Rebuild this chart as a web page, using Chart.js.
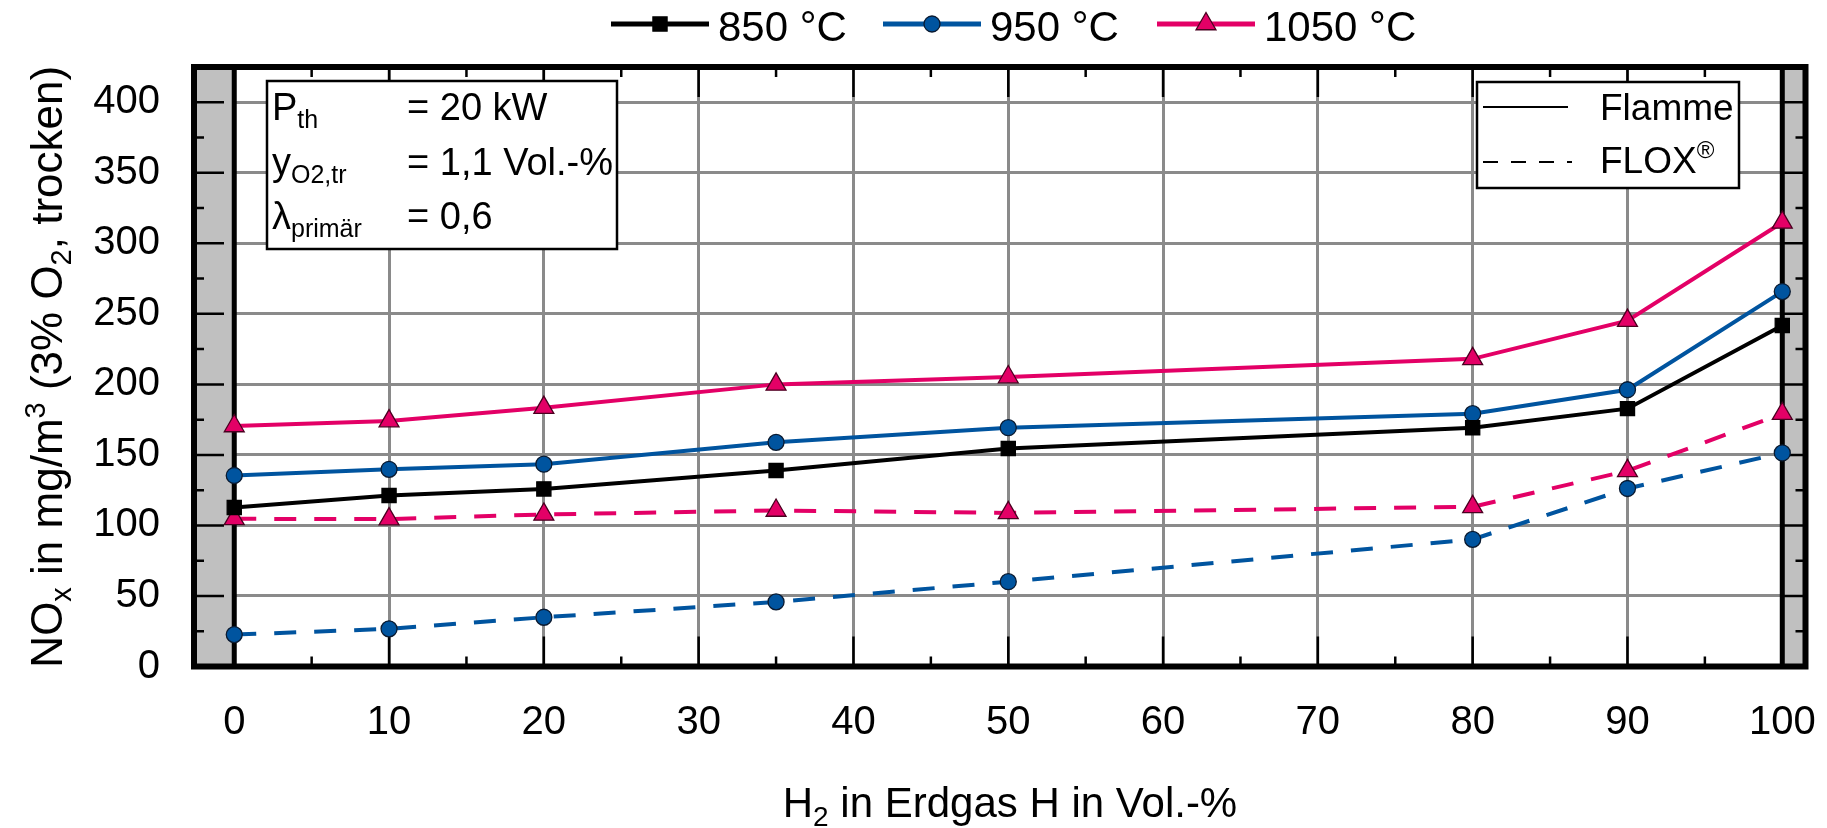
<!DOCTYPE html>
<html><head><meta charset="utf-8">
<script src="https://cdn.jsdelivr.net/npm/chart.js@4.4.0/dist/chart.umd.min.js"></script>
<style>html,body{margin:0;padding:0;background:#fff;}canvas{display:block;}</style>
</head><body>
<canvas id="c" width="1827" height="828"></canvas>
<script>
// ---------- data ----------
const h2Values   = [0, 10, 20, 35, 50, 80, 90, 100];
const flamme850  = [112.7, 121.2, 125.9, 138.9, 154.5, 169.3, 182.8, 241.7];
const flamme950  = [135.4, 139.8, 143.4, 158.9, 169.3, 179.2, 196.2, 265.8];
const flamme1050 = [170.5, 174.0, 183.5, 200.0, 205.2, 218.1, 245.2, 314.8];
const flox950    = [22.6, 26.7, 34.9, 45.8, 60.1, 90.1, 126.2, 151.4];
const flox1050   = [104.7, 104.5, 107.8, 110.6, 108.9, 113.2, 138.7, 179.2];
const xTickValues = [0, 10, 20, 30, 40, 50, 60, 70, 80, 90, 100];
const yTickValues = [0, 50, 100, 150, 200, 250, 300, 350, 400];
const seriesLabels = ['850 °C', '950 °C', '1050 °C'];
const modeLabels = ['Flamme', 'FLOX'];

// ---------- style ----------
const FONT = "'Liberation Sans', Arial, Helvetica, sans-serif";
const C_BLACK = '#000000', C_BLUE = '#00549f', C_PINK = '#e30066';
const seriesStyle = [
  {color: C_BLACK, shape: 'rect', r: 10, border: C_BLACK},
  {color: C_BLUE, shape: 'circle', r: 8, border: '#0a1a30'},
  {color: C_PINK, shape: 'triangle', r: 11.5, border: '#4a0020'}
];
const DASH = [22, 18];

function pts(arr) { return h2Values.map((x, i) => ({x: x, y: arr[i]})); }
function ds(label, arr, si, dashed) {
  const s = seriesStyle[si];
  return {
    label: label, data: pts(arr), showLine: true, tension: 0,
    borderColor: s.color, borderWidth: 4, borderDash: dashed ? DASH : [],
    pointStyle: s.shape, pointRadius: s.r, pointHoverRadius: s.r,
    pointBackgroundColor: s.color, pointBorderColor: s.border, pointBorderWidth: 1.3
  };
}

function drawRich(ctx, segs, x, y, align) {
  let total = 0;
  const widths = segs.map(s => { ctx.font = s[1] + 'px ' + FONT; const w = ctx.measureText(s[0]).width; total += w; return w; });
  let cx = align === 'center' ? x - total / 2 : (align === 'right' ? x - total : x);
  ctx.textAlign = 'left'; ctx.textBaseline = 'alphabetic'; ctx.fillStyle = '#000';
  segs.forEach((s, i) => { ctx.font = s[1] + 'px ' + FONT; ctx.fillText(s[0], cx, y + (s[2] || 0)); cx += widths[i]; });
}
function marker(ctx, s, x, y) {
  ctx.save();
  ctx.fillStyle = s.color; ctx.strokeStyle = s.border; ctx.lineWidth = 1.3; ctx.setLineDash([]);
  ctx.beginPath();
  if (s.shape === 'rect') { const h = s.r * Math.SQRT1_2; ctx.rect(x - h, y - h, 2 * h, 2 * h); }
  else if (s.shape === 'circle') { ctx.arc(x, y, s.r, 0, Math.PI * 2); }
  else { const r = s.r; ctx.moveTo(x, y - r); ctx.lineTo(x + r * Math.sin(2.0944), y - r * Math.cos(2.0944)); ctx.lineTo(x + r * Math.sin(4.18879), y - r * Math.cos(4.18879)); ctx.closePath(); }
  ctx.fill(); ctx.stroke();
  ctx.restore();
}

const framePlugin = {
  id: 'frame',
  beforeDatasetsDraw(chart) {
    const {ctx, chartArea: a, scales: {x, y}} = chart;
    ctx.save();
    const x0 = x.getPixelForValue(0), x100 = x.getPixelForValue(100);
    ctx.fillStyle = '#c0c0c0';
    ctx.fillRect(a.left, a.top, x0 - a.left, a.bottom - a.top);
    ctx.fillRect(x100, a.top, a.right - x100, a.bottom - a.top);
    ctx.strokeStyle = '#000'; ctx.lineWidth = 2.5;
    ctx.beginPath();
    for (let v = 5; v < 100; v += 5) {
      const px = x.getPixelForValue(v), L = (v % 10 === 0) ? 30 : 10;
      ctx.moveTo(px, a.bottom); ctx.lineTo(px, a.bottom - L);
      ctx.moveTo(px, a.top); ctx.lineTo(px, a.top + L);
    }
    const bandL = x0 - a.left, bandR = a.right - x100;
    for (let v = 25; v < 425; v += 25) {
      const py = y.getPixelForValue(v), major = (v % 50 === 0);
      ctx.moveTo(a.left, py); ctx.lineTo(a.left + (major ? Math.min(30, bandL) : 10), py);
      ctx.moveTo(a.right, py); ctx.lineTo(a.right - (major ? bandR : 10), py);
    }
    ctx.stroke();
    ctx.lineWidth = 5;
    ctx.beginPath();
    ctx.moveTo(x0, a.top); ctx.lineTo(x0, a.bottom);
    ctx.moveTo(x100, a.top); ctx.lineTo(x100, a.bottom);
    ctx.stroke();
    ctx.lineWidth = 6;
    ctx.strokeRect(a.left, a.top, a.right - a.left, a.bottom - a.top);
    ctx.restore();
  },
  afterDatasetsDraw(chart) {
    const {ctx, chartArea: a} = chart;
    ctx.save();
    // parameter box
    ctx.fillStyle = '#fff'; ctx.fillRect(267, 81, 350, 168);
    ctx.strokeStyle = '#000'; ctx.lineWidth = 2.5; ctx.strokeRect(267, 81, 350, 168);
    drawRich(ctx, [['P', 38], ['th', 25, 8]], 272, 120, 'left');
    drawRich(ctx, [['= 20 kW', 38]], 407, 120, 'left');
    drawRich(ctx, [['y', 38], ['O2,tr', 25, 8]], 272, 174.5, 'left');
    drawRich(ctx, [['= 1,1 Vol.-%', 38]], 407, 174.5, 'left');
    drawRich(ctx, [['λ', 38], ['primär', 25, 8]], 272, 229, 'left');
    drawRich(ctx, [['= 0,6', 38]], 407, 229, 'left');
    // mode box
    ctx.fillStyle = '#fff'; ctx.fillRect(1477, 82, 262, 106);
    ctx.strokeStyle = '#000'; ctx.lineWidth = 2.5; ctx.strokeRect(1477, 82, 262, 106);
    ctx.lineWidth = 2;
    ctx.beginPath(); ctx.moveTo(1483, 107); ctx.lineTo(1568, 107); ctx.stroke();
    ctx.setLineDash([15, 13]);
    ctx.beginPath(); ctx.moveTo(1483, 162); ctx.lineTo(1572, 162); ctx.stroke();
    ctx.setLineDash([]);
    drawRich(ctx, [[modeLabels[0], 37]], 1600, 120, 'left');
    drawRich(ctx, [[modeLabels[1], 37], ['®', 24, -15]], 1600, 173, 'left');
    // top legend
    const lx = [611, 883, 1157];
    seriesLabels.forEach((lab, i) => {
      const s = seriesStyle[i];
      ctx.strokeStyle = s.color; ctx.lineWidth = 5;
      ctx.beginPath(); ctx.moveTo(lx[i], 24); ctx.lineTo(lx[i] + 98, 24); ctx.stroke();
      marker(ctx, s, lx[i] + 49, 24);
      drawRich(ctx, [[lab, 42]], lx[i] + 107, 41, 'left');
    });
    // axis titles
    drawRich(ctx, [['H', 42], ['2', 28, 9], [' in Erdgas H in Vol.-%', 42]], 1010, 817, 'center');
    ctx.translate(62, (a.top + a.bottom) / 2);
    ctx.rotate(-Math.PI / 2);
    drawRich(ctx, [['NO', 44], ['x', 29, 9], [' in mg/m', 44], ['3', 29, -17], [' (3% O', 44], ['2', 29, 9], [', trocken)', 44]], 0, 0, 'center');
    ctx.restore();
  }
};

new Chart(document.getElementById('c'), {
  type: 'scatter',
  data: {
    datasets: [
      ds(seriesLabels[0] + ' ' + modeLabels[0], flamme850, 0, false),
      ds(seriesLabels[1] + ' ' + modeLabels[0], flamme950, 1, false),
      ds(seriesLabels[2] + ' ' + modeLabels[0], flamme1050, 2, false),
      ds(seriesLabels[1] + ' ' + modeLabels[1], flox950, 1, true),
      ds(seriesLabels[2] + ' ' + modeLabels[1], flox1050, 2, true)
    ]
  },
  options: {
    responsive: false, animation: false, devicePixelRatio: 1,
    layout: {padding: {top: 67, right: 21.5, left: 0, bottom: 0}},
    plugins: {legend: {display: false}, tooltip: {enabled: false}},
    scales: {
      x: {
        type: 'linear', min: -2.6, max: 101.5,
        afterBuildTicks: s => { s.ticks = xTickValues.map(v => ({value: v})); },
        afterFit: s => { s.height = 161.5; s.paddingLeft = 0; s.paddingRight = 0; },
        grid: {color: '#8a8a8a', lineWidth: 3, drawTicks: false},
        border: {display: false},
        ticks: {padding: 32, color: '#000', font: {family: FONT, size: 40}, maxRotation: 0, autoSkip: false}
      },
      y: {
        type: 'linear', min: 0, max: 425,
        afterBuildTicks: s => { s.ticks = yTickValues.map(v => ({value: v})); },
        afterFit: s => { s.width = 194; s.paddingTop = 0; s.paddingBottom = 0; },
        grid: {color: '#8a8a8a', lineWidth: 3, drawTicks: false},
        border: {display: false},
        ticks: {padding: 34, color: '#000', font: {family: FONT, size: 40}, autoSkip: false}
      }
    }
  },
  plugins: [framePlugin]
});
</script>
</body></html>
